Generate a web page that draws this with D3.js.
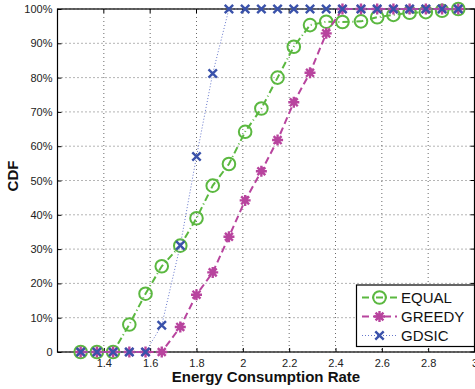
<!DOCTYPE html>
<html>
<head>
<meta charset="utf-8">
<script src="https://cdn.jsdelivr.net/npm/d3@7"></script>
<style>
  body { margin: 0; background: #fff; }
  svg { display: block; font-family: "Liberation Sans", Arial, sans-serif; }
</style>
</head>
<body>
<svg width="475" height="389"></svg>
<script>
// energy rate sample points (x) and the CDF of each scheme, in %
const rates = [1.30, 1.37, 1.44, 1.51, 1.58, 1.65, 1.73, 1.80, 1.87, 1.94, 2.01, 2.08,
               2.15, 2.22, 2.29, 2.36, 2.43, 2.51, 2.58, 2.65, 2.72, 2.79, 2.86, 2.93];
const equal  = [0, 0, 0, 8, 17, 25, 31, 39, 48.5, 54.8, 64.2, 71, 80, 89, 95.3, 96.3,
                96.2, 96.4, 97.6, 98.3, 98.9, 99.1, 99.5, 100];
const greedy = [0, 0, 0, 0, 0, 0, 7.3, 16.7, 23.2, 33.6, 44.2, 52.7, 61.8, 72.8, 81.4, 92.9,
                100, 100, 100, 100, 100, 100, 100, 100];
const gdsic  = [0, 0, 0, 0, 0, 7.8, 31.1, 57, 81.2, 100, 100, 100, 100, 100, 100, 100,
                100, 100, 100, 100, 100, 100, 100, 100];
const xTicks = [1.4, 1.6, 1.8, 2, 2.2, 2.4, 2.6, 2.8, 3];
const yTicks = [0, 10, 20, 30, 40, 50, 60, 70, 80, 90, 100];
const seriesNames = ['EQUAL', 'GREEDY', 'GDSIC'];

const svg = d3.select('svg');
const pLeft = 57.5, pRight = 474.5, pTop = 9, pBottom = 352;

let x = d3.scaleLinear().domain([1.2, 3]).range([pLeft, pRight]);
let y = d3.scaleLinear().domain([0, 100]).range([pBottom, pTop]);

// grid
let grid = svg.append('g').attr('stroke', '#444').attr('stroke-width', 0.8)
  .attr('stroke-dasharray', '1,3');
xTicks.forEach(t => {
  grid.append('line').attr('x1', x(t)).attr('x2', x(t)).attr('y1', pTop).attr('y2', pBottom);
});
yTicks.forEach(t => {
  grid.append('line').attr('x1', pLeft).attr('x2', pRight).attr('y1', y(t)).attr('y2', y(t));
});

// axes (MATLAB style: ticks inside)
let xAxis = d3.axisBottom(x).tickValues(xTicks).tickSizeInner(-4).tickSizeOuter(0)
  .tickPadding(7).tickFormat(d3.format('~g'));
let yAxis = d3.axisLeft(y).tickValues(yTicks).tickSizeInner(-4).tickSizeOuter(0)
  .tickPadding(5).tickFormat(d => d === 0 ? '0' : d + '%');

let gx = svg.append('g').attr('transform', `translate(0,${pBottom})`).call(xAxis);
let gy = svg.append('g').attr('transform', `translate(${pLeft},0)`).call(yAxis);
[gx, gy].forEach(g => {
  g.select('.domain').remove();
  g.selectAll('text').attr('font-size', 11).attr('fill', '#222')
    .attr('font-family', '"Liberation Sans", Arial, sans-serif');
  g.selectAll('line').attr('stroke', '#000');
});
// top and right ticks
svg.append('g').selectAll('line').data(xTicks).join('line')
  .attr('x1', d => x(d)).attr('x2', d => x(d)).attr('y1', pTop).attr('y2', pTop + 4).attr('stroke', '#000');
svg.append('g').selectAll('line').data(yTicks).join('line')
  .attr('x1', pRight - 4).attr('x2', pRight).attr('y1', d => y(d)).attr('y2', d => y(d)).attr('stroke', '#000');

svg.append('rect').attr('x', pLeft).attr('y', pTop).attr('width', pRight - pLeft).attr('height', pBottom - pTop)
  .attr('fill', 'none').attr('stroke', '#000').attr('stroke-width', 1.2);

// series
const styles = [
  { data: equal,  color: '#5bb840', dash: '7,3,1,3', width: 2, marker: 'circle' },
  { data: greedy, color: '#b8449e', dash: '7,4',     width: 2, marker: 'star' },
  { data: gdsic,  color: '#3a52aa', dash: '1,2',     width: 1, marker: 'cross', lineColor: '#6677cc' }
];

let line = d3.line().x((d, i) => x(rates[i])).y(d => y(d));

function drawMarker(g, type, color) {
  if (type === 'circle') {
    g.append('circle').attr('r', 6.3).attr('fill', 'none').attr('stroke', color).attr('stroke-width', 2);
  } else if (type === 'star') {
    let s = 5.5, d = s * 0.72;
    let p = `M${-s},0L${s},0M0,${-s}L0,${s}M${-d},${-d}L${d},${d}M${-d},${d}L${d},${-d}`;
    g.append('path').attr('d', p).attr('stroke', color).attr('stroke-width', 2.4).attr('fill', 'none');
  } else {
    let s = 4.2;
    g.append('path').attr('d', `M${-s},${-s}L${s},${s}M${-s},${s}L${s},${-s}`)
      .attr('stroke', color).attr('stroke-width', 2.4).attr('fill', 'none');
  }
}

styles.forEach(st => {
  svg.append('path').datum(st.data).attr('d', line).attr('fill', 'none')
    .attr('stroke', st.lineColor || st.color).attr('stroke-width', st.width)
    .attr('stroke-dasharray', st.dash);
  st.data.forEach((v, i) => {
    let g = svg.append('g').attr('transform', `translate(${x(rates[i])},${y(v)})`);
    drawMarker(g, st.marker, st.color);
  });
});

// legend
let lg = svg.append('g');
lg.append('rect').attr('x', 356.5).attr('y', 285).attr('width', 118).attr('height', 61.5)
  .attr('fill', '#fff').attr('stroke', '#000').attr('stroke-width', 1.2);
seriesNames.forEach((name, i) => {
  let st = styles[i];
  let ly = 297.5 + i * 19;
  lg.append('line').attr('x1', 362).attr('x2', 397).attr('y1', ly).attr('y2', ly)
    .attr('stroke', st.lineColor || st.color).attr('stroke-width', st.width)
    .attr('stroke-dasharray', st.dash);
  drawMarker(lg.append('g').attr('transform', `translate(379.5,${ly})`), st.marker, st.color);
  lg.append('text').attr('x', 401).attr('y', ly + 5.5).attr('font-size', 15).attr('fill', '#111').text(name);
});

// axis titles
svg.append('text').attr('x', (pLeft + pRight) / 2).attr('y', 382).attr('text-anchor', 'middle')
  .attr('font-size', 15).attr('font-weight', 'bold').attr('fill', '#111').text('Energy Consumption Rate');
svg.append('text').attr('transform', `translate(18,176) rotate(-90)`).attr('text-anchor', 'middle')
  .attr('font-size', 15).attr('font-weight', 'bold').attr('fill', '#111').text('CDF');
</script>
</body>
</html>
